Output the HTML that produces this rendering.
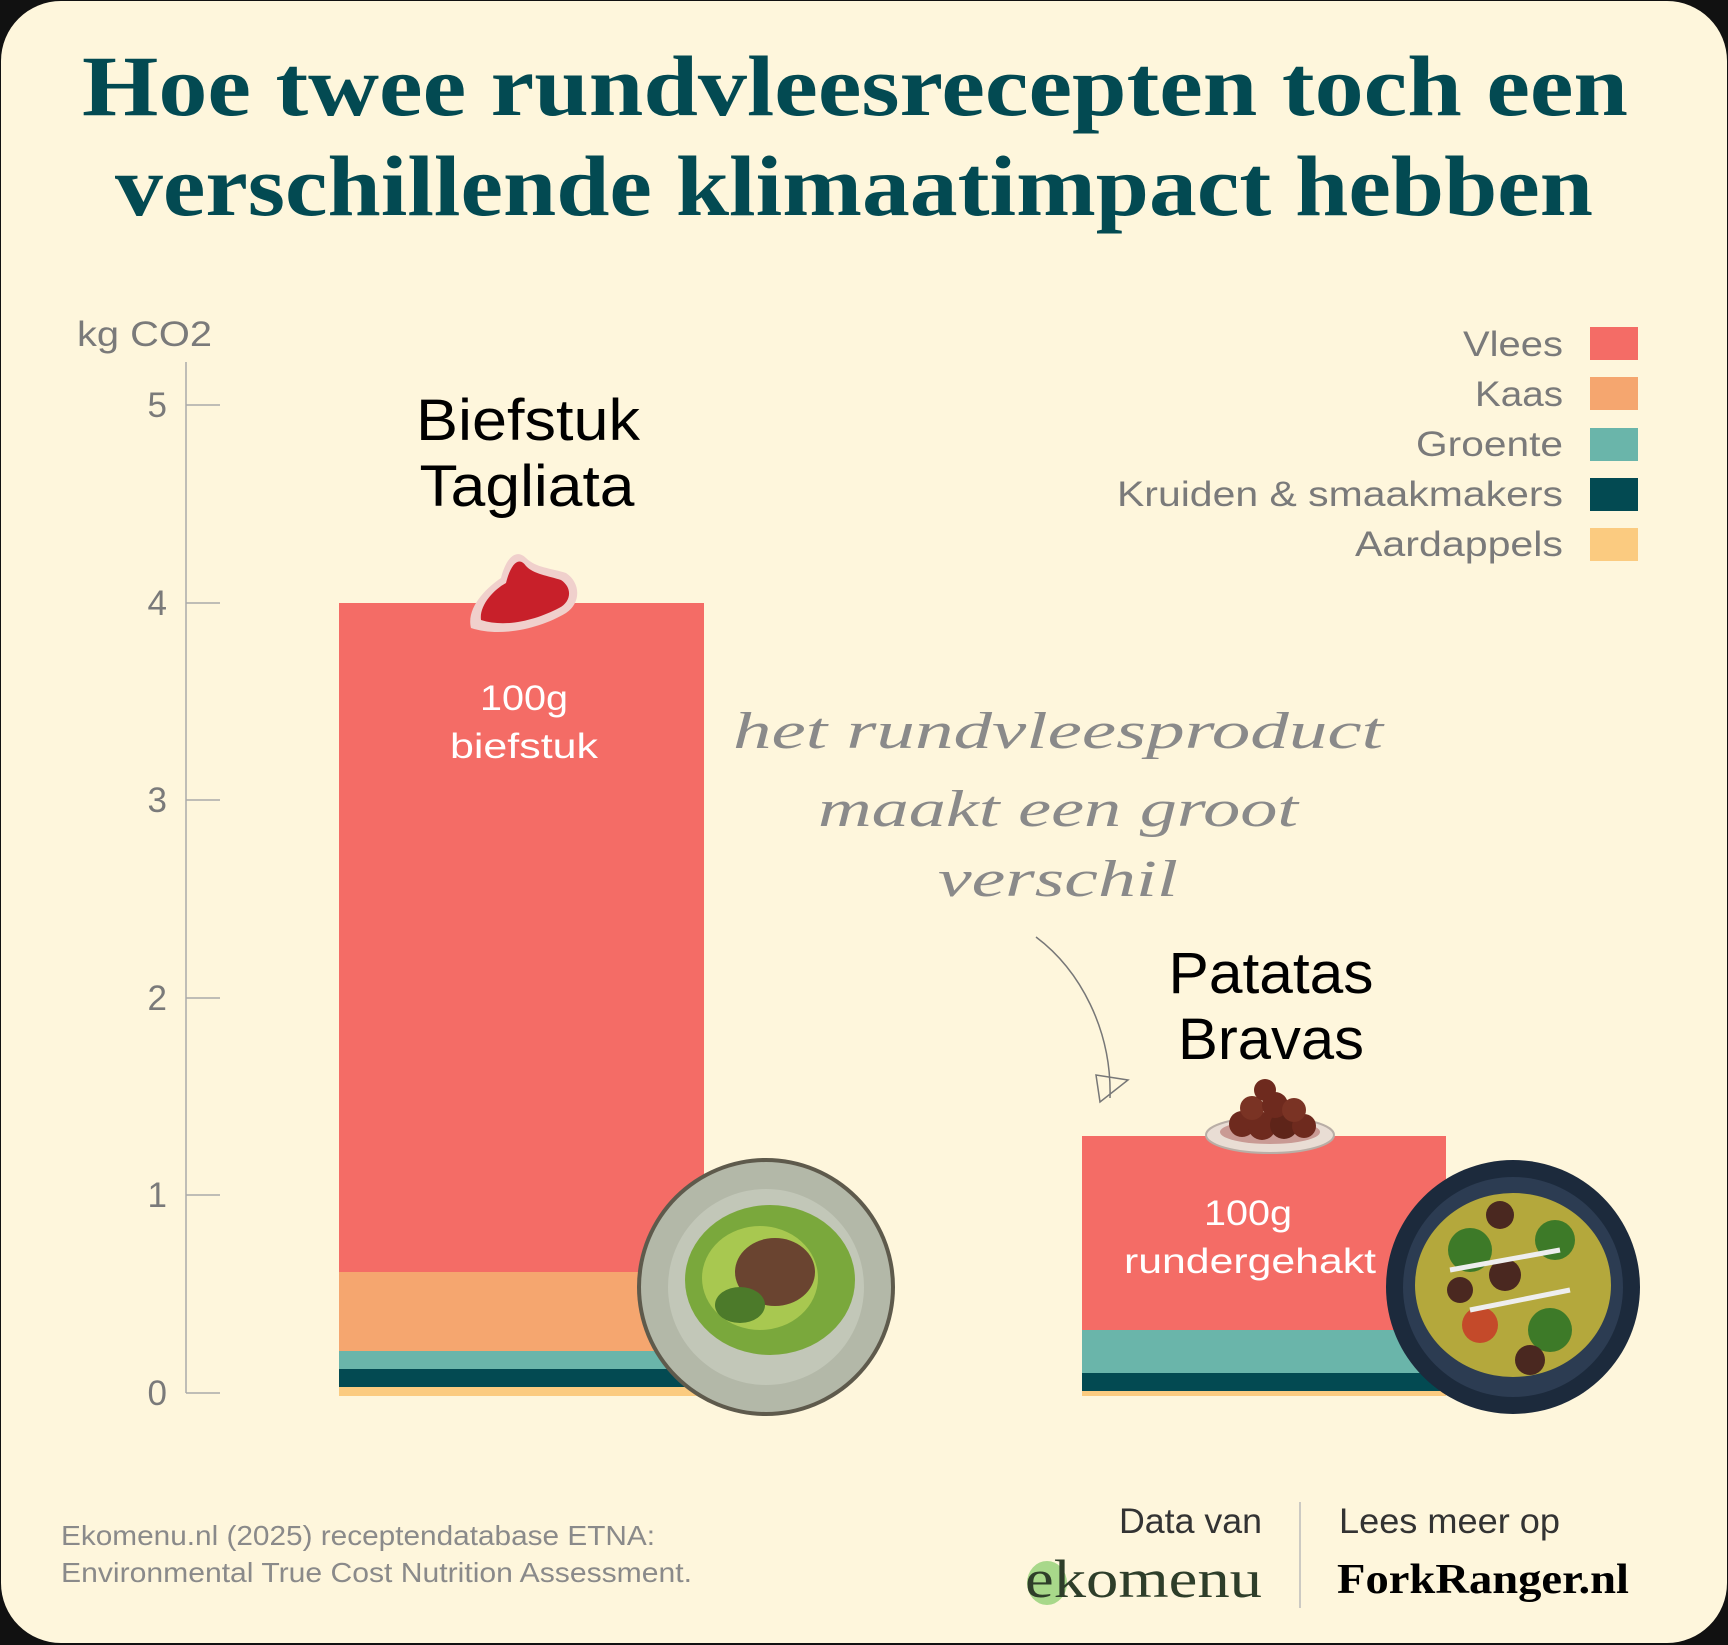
<!DOCTYPE html>
<html><head><meta charset="utf-8"><style>
html,body{margin:0;padding:0;background:#000;}
svg{display:block}
</style></head><body>
<svg width="1728" height="1645" viewBox="0 0 1728 1645" xmlns="http://www.w3.org/2000/svg">
<rect x="0" y="0" width="1728" height="1645" fill="#111"/>
<rect x="1" y="1" width="1726" height="1642" rx="60" fill="#fef6dc"/>
<g font-family="Liberation Serif, serif" font-weight="bold" fill="#034a52" font-size="86">
<text x="82" y="115" textLength="1546" lengthAdjust="spacingAndGlyphs">Hoe twee rundvleesrecepten toch een</text>
<text x="115" y="215" textLength="1478" lengthAdjust="spacingAndGlyphs">verschillende klimaatimpact hebben</text>
</g>
<g font-family="Liberation Sans, sans-serif" fill="#7a7a7a">
<text x="77" y="346" font-size="35" textLength="135" lengthAdjust="spacingAndGlyphs">kg CO2</text>
<g font-size="35" text-anchor="end">
<text x="167" y="417">5</text><text x="167" y="615">4</text><text x="167" y="812">3</text>
<text x="167" y="1010">2</text><text x="167" y="1207">1</text><text x="167" y="1405">0</text>
</g>
</g>
<g stroke="#aaa" stroke-width="1.5">
<line x1="186" y1="362" x2="186" y2="1393"/>
<line x1="186" y1="405" x2="220" y2="405"/><line x1="186" y1="603" x2="220" y2="603"/>
<line x1="186" y1="800" x2="220" y2="800"/><line x1="186" y1="998" x2="220" y2="998"/>
<line x1="186" y1="1195" x2="220" y2="1195"/><line x1="186" y1="1393" x2="220" y2="1393"/>
</g>
<rect x="339" y="603" width="365" height="669" fill="#f46c66"/>
<rect x="339" y="1272" width="365" height="79" fill="#f5a66f"/>
<rect x="339" y="1351" width="365" height="18" fill="#6ab5aa"/>
<rect x="339" y="1369" width="365" height="18" fill="#034a52"/>
<rect x="339" y="1387" width="365" height="9" fill="#fbcb80"/>
<rect x="1082" y="1136" width="364" height="194" fill="#f46c66"/>
<rect x="1082" y="1330" width="364" height="43" fill="#6ab5aa"/>
<rect x="1082" y="1373" width="364" height="18" fill="#034a52"/>
<rect x="1082" y="1391" width="364" height="5" fill="#fbcb80"/>
<g font-family="Liberation Sans, sans-serif" text-anchor="middle">
<text x="528" y="440" font-size="58" fill="#000" textLength="224" lengthAdjust="spacingAndGlyphs">Biefstuk</text>
<text x="527" y="506" font-size="58" fill="#000" textLength="215" lengthAdjust="spacingAndGlyphs">Tagliata</text>
<text x="1271" y="993" font-size="58" fill="#000" textLength="205" lengthAdjust="spacingAndGlyphs">Patatas</text>
<text x="1271" y="1059" font-size="58" fill="#000" textLength="186" lengthAdjust="spacingAndGlyphs">Bravas</text>
<text x="524" y="710" font-size="35" fill="#fff" textLength="88" lengthAdjust="spacingAndGlyphs">100g</text>
<text x="524" y="758" font-size="35" fill="#fff" textLength="148" lengthAdjust="spacingAndGlyphs">biefstuk</text>
<text x="1248" y="1225" font-size="35" fill="#fff" textLength="88" lengthAdjust="spacingAndGlyphs">100g</text>
<text x="1250" y="1273" font-size="35" fill="#fff" textLength="252" lengthAdjust="spacingAndGlyphs">rundergehakt</text>
</g>
<g transform="translate(521,598)">
<path d="M-50,30 C-55,10 -35,-10 -20,-20 C-15,-40 -5,-50 5,-40 C15,-30 30,-30 45,-25 C60,-15 60,5 45,15 C20,30 -20,40 -50,30Z" fill="#f0d0cc"/>
<path d="M-40,22 C-42,8 -28,-8 -15,-15 C-10,-35 -2,-42 5,-32 C12,-24 28,-22 40,-18 C52,-10 50,4 38,10 C15,22 -15,30 -40,22Z" fill="#c8202a"/>
</g>
<g transform="translate(1270,1122)">
<ellipse cx="0" cy="13" rx="64" ry="18" fill="#e9ddd4" stroke="#b9aea6" stroke-width="2"/>
<ellipse cx="0" cy="10" rx="50" ry="12" fill="#c99a94"/>
<circle cx="-28" cy="2" r="13" fill="#6e2a1e"/><circle cx="-8" cy="4" r="14" fill="#6e2a1e"/>
<circle cx="14" cy="3" r="14" fill="#5e2419"/><circle cx="34" cy="4" r="12" fill="#6e2a1e"/>
<circle cx="-18" cy="-14" r="12" fill="#7a3324"/><circle cx="5" cy="-17" r="13" fill="#6e2a1e"/>
<circle cx="24" cy="-12" r="12" fill="#7a3324"/><circle cx="-5" cy="-32" r="11" fill="#6e2a1e"/>
</g>
<circle cx="766" cy="1287" r="129" fill="#5e5a4c"/>
<circle cx="766" cy="1287" r="125" fill="#b3b8a8"/>
<circle cx="766" cy="1287" r="98" fill="#c2c7b8"/>
<ellipse cx="770" cy="1280" rx="85" ry="75" fill="#7aa83c"/>
<ellipse cx="760" cy="1278" rx="58" ry="52" fill="#a8c850"/>
<ellipse cx="775" cy="1272" rx="40" ry="34" fill="#6a4430"/>
<ellipse cx="740" cy="1305" rx="25" ry="18" fill="#4c7a2a"/>
<circle cx="1513" cy="1287" r="127" fill="#1c2a3c"/>
<circle cx="1513" cy="1287" r="110" fill="#2c3c52"/>
<ellipse cx="1513" cy="1285" rx="98" ry="92" fill="#b4a83c"/>
<circle cx="1470" cy="1250" r="22" fill="#3d7a28"/><circle cx="1555" cy="1240" r="20" fill="#3d7a28"/>
<circle cx="1550" cy="1330" r="22" fill="#3d7a28"/><circle cx="1480" cy="1325" r="18" fill="#c44a2a"/>
<circle cx="1505" cy="1275" r="16" fill="#4a2820"/><circle cx="1530" cy="1360" r="15" fill="#4a2820"/>
<circle cx="1500" cy="1215" r="14" fill="#4a2820"/><circle cx="1460" cy="1290" r="13" fill="#4a2820"/>
<path d="M1450,1270 L1560,1250 M1470,1310 L1570,1290" stroke="#eee" stroke-width="5" fill="none"/>
<g font-family="Liberation Sans, sans-serif" font-size="35" fill="#7a7a7a" text-anchor="end">
<text x="1563" y="356" textLength="100" lengthAdjust="spacingAndGlyphs">Vlees</text>
<text x="1563" y="406" textLength="88" lengthAdjust="spacingAndGlyphs">Kaas</text>
<text x="1563" y="456" textLength="147" lengthAdjust="spacingAndGlyphs">Groente</text>
<text x="1563" y="506" textLength="446" lengthAdjust="spacingAndGlyphs">Kruiden &amp; smaakmakers</text>
<text x="1563" y="556" textLength="208" lengthAdjust="spacingAndGlyphs">Aardappels</text>
</g>
<rect x="1590" y="327" width="48" height="33" fill="#f46c66"/>
<rect x="1590" y="377" width="48" height="33" fill="#f5a66f"/>
<rect x="1590" y="428" width="48" height="33" fill="#6ab5aa"/>
<rect x="1590" y="478" width="48" height="33" fill="#034a52"/>
<rect x="1590" y="528" width="48" height="33" fill="#fbcb80"/>
<g font-family="Liberation Serif, serif" font-style="italic" font-size="52" fill="#8a8a8a" text-anchor="middle">
<text x="1058" y="748" textLength="650" lengthAdjust="spacingAndGlyphs">het rundvleesproduct</text>
<text x="1058" y="826" textLength="480" lengthAdjust="spacingAndGlyphs">maakt een groot</text>
<text x="1058" y="896" textLength="240" lengthAdjust="spacingAndGlyphs">verschil</text>
</g>
<path d="M1036,937 C1080,970 1112,1030 1110,1098" stroke="#777" stroke-width="1.5" fill="none"/>
<path d="M1096,1075 L1100,1102 L1128,1080 Z" stroke="#777" stroke-width="1.5" fill="none"/>
<g font-family="Liberation Sans, sans-serif" fill="#8a8a8a" font-size="28">
<text x="61" y="1545" textLength="594" lengthAdjust="spacingAndGlyphs">Ekomenu.nl (2025) receptendatabase ETNA:</text>
<text x="61" y="1582" textLength="631" lengthAdjust="spacingAndGlyphs">Environmental True Cost Nutrition Assessment.</text>
</g>
<g font-family="Liberation Sans, sans-serif" fill="#333" font-size="35">
<text x="1262" y="1533" text-anchor="end" textLength="143" lengthAdjust="spacingAndGlyphs">Data van</text>
<text x="1339" y="1533" textLength="221" lengthAdjust="spacingAndGlyphs">Lees meer op</text>
</g>
<line x1="1300" y1="1502" x2="1300" y2="1608" stroke="#bbb" stroke-width="1.5"/>
<ellipse cx="1047" cy="1583" rx="20" ry="22" fill="#a8d88a"/>
<text x="1025" y="1597" font-family="Liberation Serif, serif" font-size="54" fill="#2e3e2a" textLength="237" lengthAdjust="spacingAndGlyphs">ekomenu</text>
<text x="1337" y="1593" font-family="Liberation Serif, serif" font-weight="bold" font-size="42" fill="#000" textLength="292" lengthAdjust="spacingAndGlyphs">ForkRanger.nl</text>
</svg>
</body></html>
